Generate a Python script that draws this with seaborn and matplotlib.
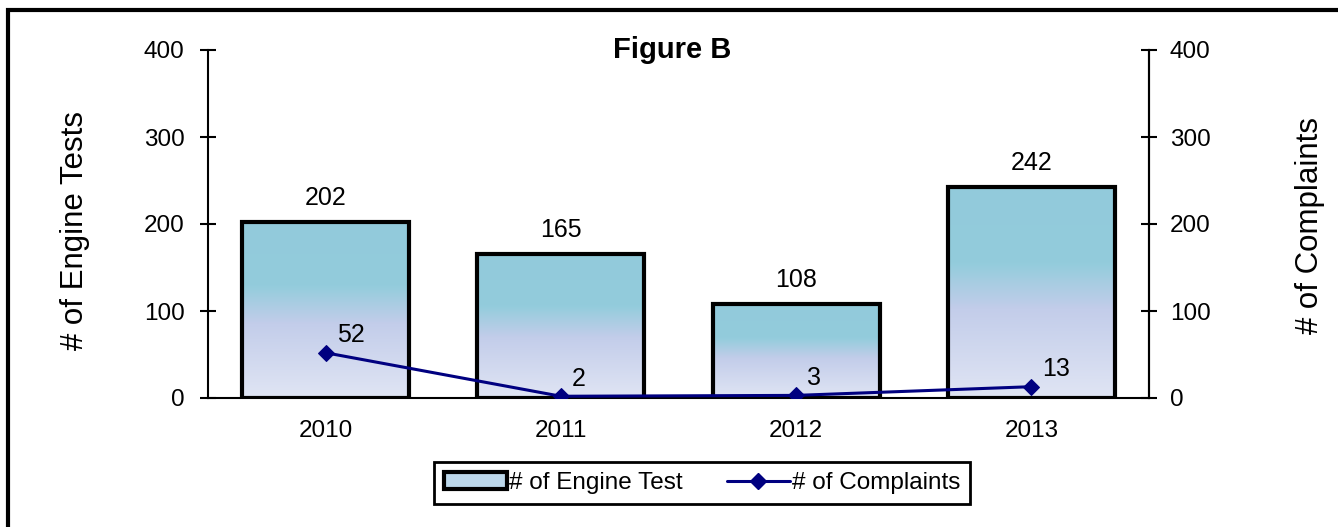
import numpy as np
import matplotlib
matplotlib.use('Agg')
import matplotlib.pyplot as plt
from matplotlib.colors import LinearSegmentedColormap
from matplotlib.patches import Rectangle, Patch
from matplotlib.lines import Line2D
import seaborn as sns

# Data
years = ['2010', '2011', '2012', '2013']
engine_tests = [202, 165, 108, 242]
complaints = [52, 2, 3, 13]

sns.set_style('white')
plt.rcParams['font.family'] = ['Liberation Sans', 'DejaVu Sans']
plt.rcParams['text.color'] = 'black'
plt.rcParams['xtick.color'] = 'black'
plt.rcParams['ytick.color'] = 'black'

fig = plt.figure(figsize=(13.38, 5.27), dpi=100)
ax = fig.add_axes([208 / 1338, 1 - 398 / 527, 941 / 1338, 348 / 527])

sns.barplot(x=years, y=engine_tests, ax=ax, width=0.71, color='white',
            edgecolor='black', linewidth=3, saturation=1)

# gradient fill inside each bar
grad = LinearSegmentedColormap.from_list(
    'bar_grad', [(0.0, '#e0e5f4'), (0.42, '#c3cdea'), (0.64, '#93ccdc'), (1.0, '#92cadb')])
for p in ax.patches:
    x0, y0 = p.get_x(), p.get_y()
    w, h = p.get_width(), p.get_height()
    img = np.linspace(0, 1, 256).reshape(-1, 1)
    im = ax.imshow(img, cmap=grad, origin='lower', aspect='auto',
                   extent=[x0, x0 + w, y0, y0 + h], zorder=p.get_zorder() - 0.1)
    im.set_clip_path(p)
    p.set_facecolor('none')
    ax.annotate(f'{int(h)}', (x0 + w / 2, h), xytext=(0, 9), textcoords='offset points',
                ha='center', va='bottom', fontsize=18)

ax.set_xlim(-0.5, 3.5)
ax.set_ylim(0, 400)
ax.set_yticks([0, 100, 200, 300, 400])
ax.set_xticks([-0.5, 0.5, 1.5, 2.5, 3.5])
ax.set_xticklabels([])
ax.set_xticks(range(4), minor=True)
ax.set_xticklabels(years, minor=True)
ax.tick_params(axis='x', which='major', direction='inout', length=12, width=1.5, color='black')
ax.tick_params(axis='x', which='minor', length=0, pad=16, labelsize=17.5)
ax.tick_params(axis='y', direction='inout', length=12, width=1.5, color='black',
               pad=11, labelsize=17.5, left=True)
ax.set_xlabel('')
ax.set_ylabel('')
for side in ['left', 'bottom', 'right']:
    ax.spines[side].set_linewidth(1.5)
    ax.spines[side].set_color('black')
ax.spines['top'].set_visible(False)

# complaints on secondary axis
ax2 = ax.twinx()
sns.lineplot(x=np.arange(len(years)), y=complaints, ax=ax2, color='#000080',
             linewidth=2.2, marker='D', markersize=8, markeredgecolor='#000080')
ax2.set_ylim(0, 400)
ax2.set_yticks([0, 100, 200, 300, 400])
ax2.set_xlim(-0.5, 3.5)
ax2.tick_params(axis='y', direction='inout', length=12, width=1.5, color='black',
                pad=9, labelsize=17.5, right=True)
for side in ['top', 'left', 'bottom']:
    ax2.spines[side].set_visible(False)
ax2.spines['right'].set_linewidth(1.5)
ax2.spines['right'].set_color('black')
for i, v in enumerate(complaints):
    ax2.annotate(f'{v}', (i, v), xytext=(8, 4), textcoords='offset points',
                 ha='left', va='bottom', fontsize=18)

ax.text(0.493, 1.0, 'Figure B', transform=ax.transAxes, ha='center', va='center',
        fontsize=21, fontweight='bold')

fig.text(75 / 1338, 1 - 231 / 527, '# of Engine Tests', rotation=90, ha='center',
         va='center', fontsize=22.5)
fig.text(1310 / 1338, 1 - 225 / 527, '# of Complaints', rotation=90, ha='center',
         va='center', fontsize=22.5)

handles = [Patch(facecolor='#bcd7ea', edgecolor='black', linewidth=3),
           Line2D([0], [0], color='#000080', linewidth=2.2, marker='D', markersize=8)]
leg = fig.legend(handles, ['# of Engine Test', '# of Complaints'], loc='center',
                 bbox_to_anchor=(702 / 1338, 1 - 483 / 527), ncol=2, fontsize=17.5,
                 frameon=True, fancybox=False, framealpha=1, edgecolor='black',
                 handlelength=2.6, handletextpad=0.1, columnspacing=1.8,
                 borderpad=0.4, borderaxespad=0)
leg.get_frame().set_linewidth(2)

# outer frame (only left/top edges fall inside the image)
fig.add_artist(Rectangle((8 / 1338, -0.1), 1.5, 1.1 - 10 / 527, transform=fig.transFigure,
                         fill=False, edgecolor='black', linewidth=3, clip_on=False))

fig.savefig('out.png', dpi=100)
